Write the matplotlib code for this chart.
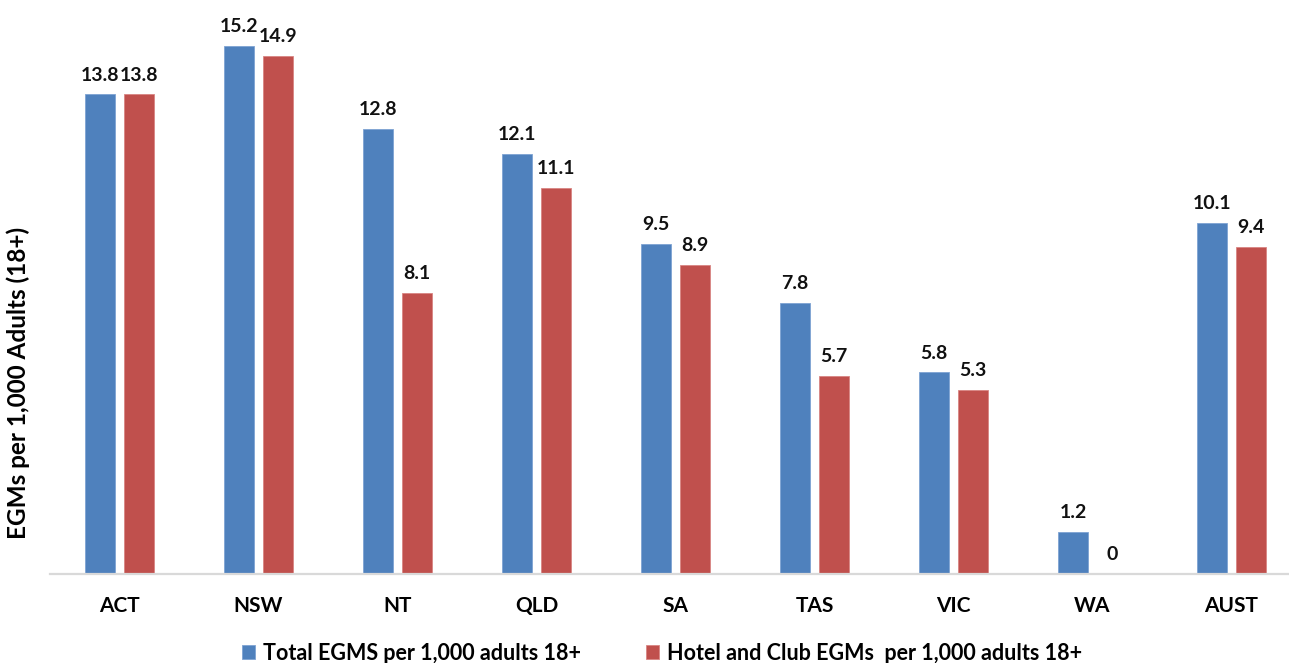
import numpy as np
import matplotlib
matplotlib.use("Agg")
import matplotlib.pyplot as plt

# EGM density by jurisdiction
states = ["ACT", "NSW", "NT", "QLD", "SA", "TAS", "VIC", "WA", "AUST"]
total_egms = [13.8, 15.2, 12.8, 12.1, 9.5, 7.8, 5.8, 1.2, 10.1]
hotel_club_egms = [13.8, 14.9, 8.1, 11.1, 8.9, 5.7, 5.3, 0, 9.4]
series_names = ["Total EGMS per 1,000 adults 18+",
                "Hotel and Club EGMs  per 1,000 adults 18+"]

BLUE, RED = "#4F81BD", "#C0504D"
plt.rcParams.update({"font.family": ["Lato", "DejaVu Sans"], "font.weight": "bold"})

fig = plt.figure(figsize=(12.89, 6.63), dpi=100)
ax = fig.add_axes([50 / 1289, 1 - 574 / 663, 1 - 50 / 1289, (574 - 18) / 663])

x = np.arange(len(states))
w, off = 0.216, 0.14
b1 = ax.bar(x - off, total_egms, w, color=BLUE, edgecolor="#7EA3D3", linewidth=0.6,
            label=series_names[0])
b2 = ax.bar(x + off, hotel_club_egms, w, color=RED, edgecolor="#D98583", linewidth=0.6,
            label=series_names[1])

for bars, vals in ((b1, total_egms), (b2, hotel_club_egms)):
    for r, v in zip(bars, vals):
        ax.annotate(f"{v:g}", (r.get_x() + r.get_width() / 2, v), xytext=(0, 10),
                    textcoords="offset points", ha="center", va="baseline",
                    fontsize=14, fontweight="bold", color="#111111")

ax.set_xlim(-0.5, (1289 - 119.5) / 139)
ax.set_ylim(0, 16)
ax.set_xticks(x)
ax.set_xticklabels(states, fontsize=15, fontweight="bold")
ax.tick_params(axis="x", length=0, pad=16)
ax.set_yticks([])
for s in ("top", "right", "left"):
    ax.spines[s].set_visible(False)
ax.spines["bottom"].set_color("#D9D9D9")
ax.spines["bottom"].set_linewidth(1.6)

fig.text(18 / 1289, 1 - 383 / 663, "EGMs per 1,000 Adults (18+)", rotation=90,
         ha="center", va="center", fontsize=17.5, fontweight="bold")

fig.legend(handles=[b1, b2], loc="center", bbox_to_anchor=(662 / 1289, 1 - 653 / 663),
           ncol=2, frameon=False, fontsize=15.5, handlelength=0.6, handleheight=0.6,
           handletextpad=0.4, columnspacing=3.0, borderaxespad=0)

fig.savefig("out.png", dpi=100)
